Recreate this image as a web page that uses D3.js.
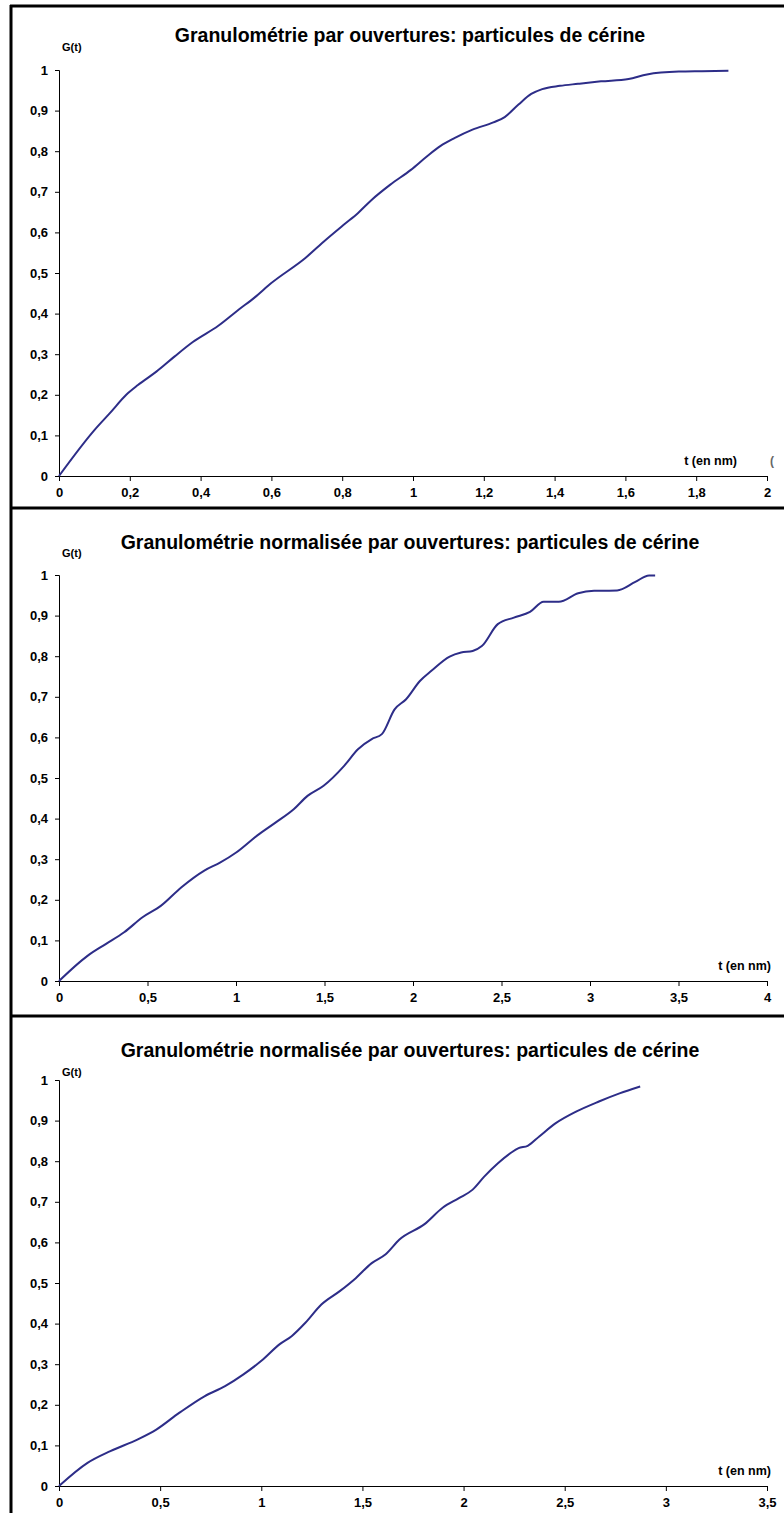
<!DOCTYPE html>
<html>
<head>
<meta charset="utf-8">
<script src="https://cdn.jsdelivr.net/npm/d3@7"></script>
<style>
  html, body { margin: 0; padding: 0; background: #fff; }
  svg { display: block; }
  text { font-family: "Liberation Sans", Arial, sans-serif; font-weight: bold; fill: #000; }
</style>
</head>
<body>
<svg id="chart" width="784" height="1513"></svg>
<script>
// ---------- DATA ----------
const titles = [
  "Granulométrie par ouvertures: particules de cérine",
  "Granulométrie normalisée par ouvertures: particules de cérine",
  "Granulométrie normalisée par ouvertures: particules de cérine"
];
const yLabel = "G(t)";
const xLabel = "t (en nm)";

const yTickValues = [0, 0.1, 0.2, 0.3, 0.4, 0.5, 0.6, 0.7, 0.8, 0.9, 1];
const yTickLabels = ["0", "0,1", "0,2", "0,3", "0,4", "0,5", "0,6", "0,7", "0,8", "0,9", "1"];

const xTickValues1 = [0, 0.2, 0.4, 0.6, 0.8, 1, 1.2, 1.4, 1.6, 1.8, 2];
const xTickLabels1 = ["0", "0,2", "0,4", "0,6", "0,8", "1", "1,2", "1,4", "1,6", "1,8", "2"];
const xTickValues2 = [0, 0.5, 1, 1.5, 2, 2.5, 3, 3.5, 4];
const xTickLabels2 = ["0", "0,5", "1", "1,5", "2", "2,5", "3", "3,5", "4"];
const xTickValues3 = [0, 0.5, 1, 1.5, 2, 2.5, 3, 3.5];
const xTickLabels3 = ["0", "0,5", "1", "1,5", "2", "2,5", "3", "3,5"];

const t1 = [0, 0.1, 0.145, 0.19, 0.223, 0.275, 0.326, 0.378, 0.45, 0.508, 0.553, 0.598, 0.696, 0.754, 0.806, 0.845, 0.883, 0.935, 0.994, 1.039, 1.078, 1.117, 1.168, 1.227, 1.259, 1.298, 1.334, 1.365, 1.415, 1.466, 1.531, 1.609, 1.661, 1.751, 1.816, 1.891];
const g1 = [0, 0.113, 0.156, 0.2, 0.224, 0.257, 0.294, 0.33, 0.37, 0.41, 0.44, 0.474, 0.537, 0.582, 0.62, 0.648, 0.68, 0.717, 0.754, 0.787, 0.813, 0.832, 0.853, 0.871, 0.884, 0.915, 0.941, 0.953, 0.961, 0.966, 0.972, 0.978, 0.989, 0.996, 0.997, 0.998];

const t2 = [0, 0.161, 0.264, 0.368, 0.472, 0.575, 0.692, 0.821, 0.912, 1.003, 1.119, 1.223, 1.326, 1.404, 1.495, 1.611, 1.689, 1.767, 1.824, 1.896, 1.961, 2.039, 2.104, 2.207, 2.272, 2.337, 2.389, 2.479, 2.57, 2.661, 2.738, 2.824, 2.933, 3.023, 3.153, 3.256, 3.334, 3.368];
const g2 = [0, 0.062, 0.091, 0.12, 0.157, 0.185, 0.231, 0.272, 0.292, 0.317, 0.358, 0.39, 0.423, 0.456, 0.481, 0.53, 0.571, 0.596, 0.608, 0.669, 0.694, 0.739, 0.764, 0.799, 0.809, 0.813, 0.825, 0.879, 0.895, 0.909, 0.934, 0.934, 0.955, 0.961, 0.962, 0.983, 0.999, 0.999];

const t3 = [0, 0.141, 0.254, 0.39, 0.481, 0.594, 0.719, 0.821, 0.912, 1.002, 1.093, 1.15, 1.218, 1.297, 1.388, 1.467, 1.546, 1.615, 1.683, 1.807, 1.898, 1.977, 2.045, 2.102, 2.17, 2.238, 2.272, 2.317, 2.374, 2.454, 2.556, 2.669, 2.771, 2.873];
const g3 = [0, 0.057, 0.086, 0.115, 0.139, 0.18, 0.221, 0.246, 0.275, 0.309, 0.35, 0.369, 0.402, 0.447, 0.48, 0.512, 0.549, 0.571, 0.607, 0.645, 0.686, 0.709, 0.73, 0.762, 0.795, 0.822, 0.832, 0.838, 0.861, 0.893, 0.922, 0.947, 0.967, 0.984];

// ---------- LAYOUT ----------
const panels = [
  { title: titles[0], t: t1, g: g1, xMax: 2,   xv: xTickValues1, xl: xTickLabels1, yTop: 70,   yBot: 476,  titleY: 42,   gY: 51,   stray: true },
  { title: titles[1], t: t2, g: g2, xMax: 4,   xv: xTickValues2, xl: xTickLabels2, yTop: 575,  yBot: 981,  titleY: 549,  gY: 557,  stray: false },
  { title: titles[2], t: t3, g: g3, xMax: 3.5, xv: xTickValues3, xl: xTickLabels3, yTop: 1080, yBot: 1486, titleY: 1057, gY: 1076, stray: false }
];
const xLeft = 59, xRight = 767;
const lineColor = "#2d2d88";

const svg = d3.select("#chart");

svg.append("rect").attr("x", 0).attr("y", 0).attr("width", 784).attr("height", 1513).attr("fill", "#fff");
svg.append("line").attr("x1", 10).attr("x2", 784).attr("y1", 6).attr("y2", 6).attr("stroke", "#000").attr("stroke-width", 3);
svg.append("line").attr("x1", 11).attr("x2", 11).attr("y1", 5).attr("y2", 1513).attr("stroke", "#000").attr("stroke-width", 3);
[508, 1016].forEach(y => {
  svg.append("line").attr("x1", 10).attr("x2", 784).attr("y1", y).attr("y2", y).attr("stroke", "#000").attr("stroke-width", 3);
});

panels.forEach(p => {
  const x = d3.scaleLinear().domain([0, p.xMax]).range([xLeft, xRight]);
  const y = d3.scaleLinear().domain([0, 1]).range([p.yBot, p.yTop]);
  const g = svg.append("g");

  g.append("text").attr("x", 410).attr("y", p.titleY).attr("text-anchor", "middle")
    .style("font-size", "19.5px").text(p.title);

  g.append("text").attr("x", 62).attr("y", p.gY).style("font-size", "11px").text(yLabel);

  const yAxis = d3.axisLeft(y).tickValues(yTickValues).tickSize(4).tickPadding(7)
    .tickFormat((d, i) => yTickLabels[i]);
  const ya = g.append("g").attr("transform", `translate(${xLeft},0)`).call(yAxis);
  ya.select(".domain").attr("stroke", "#000");
  ya.selectAll(".tick line").attr("stroke", "#000");
  ya.selectAll("text").style("font-size", "13px").style("font-family", "'Liberation Sans', Arial, sans-serif").style("font-weight", "bold");

  const xAxis = d3.axisBottom(x).tickValues(p.xv).tickSize(5).tickPadding(7)
    .tickFormat((d, i) => p.xl[i]);
  const xa = g.append("g").attr("transform", `translate(0,${p.yBot})`).call(xAxis);
  xa.select(".domain").attr("stroke", "#000");
  xa.selectAll(".tick line").attr("stroke", "#000");
  xa.selectAll("text").style("font-size", "13px").style("font-family", "'Liberation Sans', Arial, sans-serif").style("font-weight", "bold");

  g.append("text").attr("x", p.stray ? 737 : 771).attr("y", p.yBot - 11).attr("text-anchor", "end")
    .style("font-size", "12.5px").text(xLabel);
  if (p.stray) {
    g.append("text").attr("x", 770).attr("y", p.yBot - 11).style("font-size", "12px").style("fill", "#666").text("(");
  }

  const data = p.t.map((tv, i) => [tv, p.g[i]]);
  const line = d3.line().x(d => x(d[0])).y(d => y(d[1])).curve(d3.curveMonotoneX);
  g.append("path").datum(data).attr("d", line).attr("fill", "none")
    .attr("stroke", lineColor).attr("stroke-width", 2);
});
</script>
</body>
</html>
